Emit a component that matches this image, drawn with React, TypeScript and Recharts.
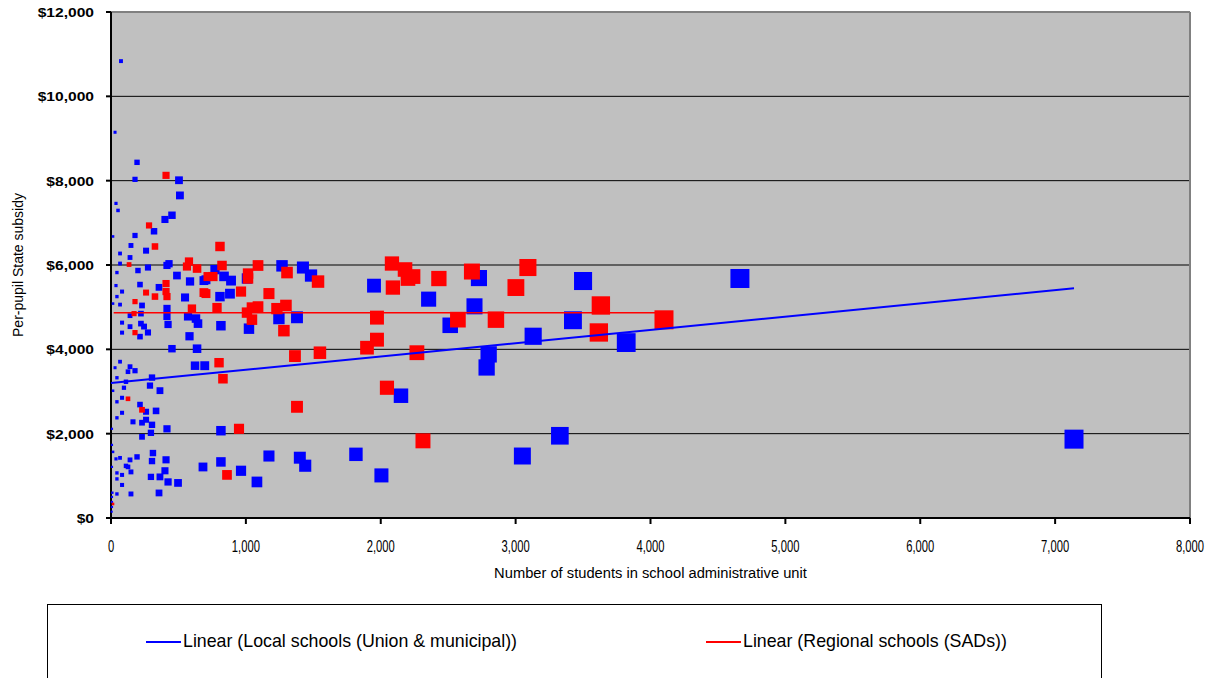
import {
  CartesianGrid,
  Legend,
  ReferenceLine,
  Scatter,
  ScatterChart,
  XAxis,
  YAxis,
} from "recharts";

// [students, per-pupil subsidy]
const localSchools: [number, number][] = [
  [7140, 1870], [4663, 5680], [3500, 5620], [3820, 4160], [3425, 4690], [3328, 1950],
  [3130, 4310], [3050, 1470], [2800, 3880], [2785, 3570], [2728, 5690], [2695, 5020],
  [2515, 4570], [2355, 5190], [2150, 2900], [2005, 1010], [1950, 5510], [1816, 1510],
  [1440, 1240], [1400, 1430], [1268, 5980], [1423, 5940], [1483, 5750], [1379, 4760],
  [1245, 4730], [1008, 5680], [1023, 4490], [882, 5320], [890, 5630], [838, 5730],
  [808, 5250], [815, 4560], [771, 5890], [704, 5650], [695, 3612], [815, 2070],
  [682, 1210], [815, 1330], [964, 1120], [1082, 855], [1171, 1470], [504, 8010],
  [511, 7650], [452, 7180], [400, 7080], [319, 6800], [260, 6340], [274, 5940],
  [430, 6030], [415, 5990], [489, 5750], [586, 5610], [689, 5630], [356, 5470],
  [549, 5230], [230, 5040], [415, 4970], [571, 4780], [630, 4730], [415, 4780],
  [222, 4610], [245, 4540], [274, 4400], [645, 4610], [423, 4590], [582, 4310],
  [452, 4015], [638, 4015], [623, 3612], [304, 3330], [289, 3140], [363, 3020],
  [215, 2690], [334, 2540], [260, 2520], [260, 2330], [230, 2260], [304, 2210],
  [415, 2115], [296, 2020], [230, 1925], [311, 1540], [304, 1350], [408, 1380],
  [400, 1120], [296, 975], [363, 975], [423, 855], [497, 832], [356, 594],
  [193, 8435], [178, 8031], [74, 10835], [30, 9148], [37, 7461], [52, 7294],
  [15, 6677], [178, 6700], [148, 6463], [67, 6273], [141, 6178], [67, 6035],
  [200, 5869], [44, 5821], [215, 5536], [37, 5512], [44, 5251], [82, 5370],
  [15, 5085], [67, 5061], [222, 4847], [141, 4799], [82, 4633], [82, 4396],
  [141, 4538], [215, 4301], [67, 3707], [30, 3564], [141, 3588], [126, 3469],
  [178, 3493], [44, 3326], [111, 3231], [15, 3018], [96, 3089], [82, 2851],
  [44, 2756], [82, 2495], [44, 2376], [163, 2281], [7, 2115], [7, 1734],
  [15, 1568], [67, 1426], [37, 1402], [141, 1378], [193, 1449], [111, 1236],
  [126, 1212], [7, 1212], [148, 1093], [44, 1069], [82, 1022], [44, 927],
  [82, 784], [148, 570], [44, 570], [7, 499], [7, 380], [7, 261], [5, 150], [10, 600],
];

const regionalSchools: [number, number][] = [
  [4100, 4700], [3632, 5040], [3617, 4400], [3091, 5940], [3002, 5465], [2854, 4704],
  [2676, 5845], [2572, 4704], [2431, 5679], [2313, 1830], [2268, 3920], [2239, 5726],
  [2202, 5679], [2180, 5893], [2090, 5465], [2083, 6035], [2046, 3089], [1972, 4752],
  [1972, 4229], [1898, 4039], [1549, 3920], [1535, 5607], [1379, 2637], [1364, 3840],
  [1305, 5821], [1297, 5040], [1282, 4443], [1230, 4966], [1171, 5322], [1090, 5988],
  [1090, 5013], [1045, 4990], [1045, 4704], [1008, 4871], [1016, 5797], [1016, 5680],
  [964, 5370], [949, 2115], [860, 1022], [830, 3303], [823, 5988], [808, 6439],
  [801, 3683], [786, 4990], [756, 5726], [719, 5726], [704, 5322], [689, 5346],
  [638, 5916], [600, 4966], [578, 6083], [563, 5964], [415, 5251], [408, 5370],
  [408, 5560], [408, 8126], [326, 6439], [326, 5251], [282, 6938], [260, 5346],
  [230, 2566], [178, 5132], [171, 4847], [178, 4396], [134, 6011], [126, 2827],
  [15, 333],
];

const localTrend: [number, number][] = [[0, 3200], [7140, 5450]];
const regionalTrend: [number, number][] = [[20, 4870], [4120, 4870]];

const xTicks = [0, 1000, 2000, 3000, 4000, 5000, 6000, 7000, 8000];
const yTicks = [0, 2000, 4000, 6000, 8000, 10000, 12000];

const BLUE = "#0000ff";
const RED = "#ff0000";
const FONT = "'Liberation Sans', Arial, sans-serif";

const toPoints = (rows: [number, number][]) => rows.map(([x, y]) => ({ x, y }));
const fmt = (v: number) => v.toLocaleString("en-US");

// marker grows with enrolment, like the original
const square = (color: string) => (props: any) => {
  const s = Math.min(19, 1.5 + 0.28 * Math.sqrt(props.payload.x));
  return <rect x={props.cx - s / 2} y={props.cy - s / 2} width={s} height={s} fill={color} />;
};
const noMarker = () => <g />;

function XTick({ x, y, payload }: any) {
  return (
    <g transform={`translate(${x},${y})`}>
      <text transform="scale(0.66,1)" textAnchor="middle" dy={26} fontSize={17} fontFamily={FONT} fill="#000">
        {fmt(payload.value)}
      </text>
    </g>
  );
}

function YTick({ x, y, payload }: any) {
  return (
    <g transform={`translate(${x},${y})`}>
      <text transform="scale(1.2,1)" textAnchor="end" dy={5} fontSize={13} fontWeight="bold" fontFamily={FONT} fill="#000">
        ${fmt(payload.value)}
      </text>
    </g>
  );
}

const yTitle = ({ viewBox }: any) => (
  <text
    transform={`translate(${viewBox.x + 23},${viewBox.y + viewBox.height / 2}) rotate(-90)`}
    textAnchor="middle"
    fontSize={14}
    fontFamily={FONT}
    fill="#000"
  >
    Per-pupil State subsidy
  </text>
);

const xTitle = ({ viewBox }: any) => (
  <g transform={`translate(${viewBox.x + viewBox.width / 2},${viewBox.y + 60})`}>
    <text transform="scale(0.98,1)" textAnchor="middle" fontSize={15} fontFamily={FONT} fill="#000">
      Number of students in school administrative unit
    </text>
  </g>
);

const renderLegend = ({ payload }: any) => (
  <div style={{ position: "relative", height: 80, border: "1px solid #000", boxSizing: "border-box", background: "#fff", fontFamily: FONT }}>
    {(payload || [])
      .filter((entry: any) => entry.type !== "none")
      .map((entry: any, i: number) => (
        <div key={entry.value} style={{ position: "absolute", left: i === 0 ? 98 : 658, top: 26, display: "flex", alignItems: "center", fontSize: 17.8 }}>
          <span style={{ display: "inline-block", width: 35, height: 2, background: entry.color }} />
          <span style={{ marginLeft: 2 }}>{entry.value}</span>
        </div>
      ))}
  </div>
);

export default function App() {
  return (
    <div style={{ position: "absolute", left: 0, top: 0, width: 1222, height: 678, background: "#fff", overflow: "hidden" }}>
      <ScatterChart width={1222} height={678} margin={{ top: 12, right: 32, bottom: 20, left: 0 }}>
        <CartesianGrid fill="#c0c0c0" vertical={false} stroke="#000" strokeOpacity={1} />
        <XAxis
          type="number"
          dataKey="x"
          domain={[0, 8000]}
          ticks={xTicks}
          height={60}
          tickSize={6}
          tick={<XTick />}
          axisLine={{ stroke: "#000", strokeWidth: 2 }}
          tickLine={{ stroke: "#000", strokeWidth: 2 }}
          label={xTitle}
        />
        <YAxis
          type="number"
          dataKey="y"
          domain={[0, 12000]}
          ticks={yTicks}
          width={111}
          tickSize={5}
          tickMargin={12}
          tick={<YTick />}
          axisLine={{ stroke: "#000", strokeWidth: 2 }}
          tickLine={{ stroke: "#000", strokeWidth: 2 }}
          label={yTitle}
        />
        <ReferenceLine y={12000} stroke="#808080" strokeWidth={2} />
        <ReferenceLine x={8000} stroke="#808080" strokeWidth={2} />
        <Scatter name="Local schools (Union & municipal)" data={toPoints(localSchools)} fill={BLUE} shape={square(BLUE)} legendType="none" isAnimationActive={false} />
        <Scatter name="Regional schools (SADs)" data={toPoints(regionalSchools)} fill={RED} shape={square(RED)} legendType="none" isAnimationActive={false} />
        <Scatter
          name="Linear (Local schools (Union & municipal))"
          data={toPoints(localTrend)}
          fill={BLUE}
          line={{ stroke: BLUE, strokeWidth: 2 }}
          shape={noMarker}
          legendType="line"
          isAnimationActive={false}
        />
        <Scatter
          name="Linear (Regional schools (SADs))"
          data={toPoints(regionalTrend)}
          fill={RED}
          line={{ stroke: RED, strokeWidth: 1.5 }}
          shape={noMarker}
          legendType="line"
          isAnimationActive={false}
        />
        <Legend verticalAlign="bottom" content={renderLegend} wrapperStyle={{ left: 47, width: 1055, bottom: "auto", top: 604 }} />
      </ScatterChart>
    </div>
  );
}
